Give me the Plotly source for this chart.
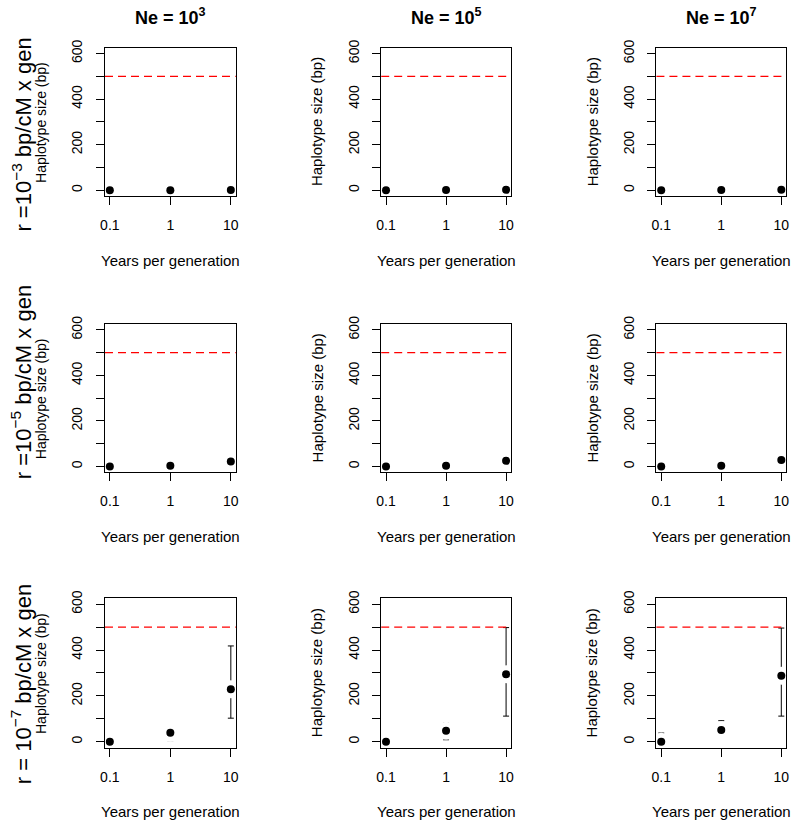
import plotly.graph_objects as go

# x values (years per generation)
years = [0.1, 1, 10]
year_labels = ["0.1", "1", "10"]

# column / row headers
ne_titles = ["Ne = 10<sup>3</sup>", "Ne = 10<sup>5</sup>", "Ne = 10<sup>7</sup>"]
r_titles = ["r =10<sup>\u22123</sup> bp/cM x gen",
            "r =10<sup>\u22125</sup> bp/cM x gen",
            "r = 10<sup>\u22127</sup> bp/cM x gen"]

# haplotype size (bp): one list per Ne column, per recombination row
mean_r3 = [[0, 0, 1], [0, 1, 2], [0, 1, 2]]
lo_r3 = [[0, 0, 0], [0, 0, 0], [0, 0, 0]]
hi_r3 = [[1, 2, 4], [1, 3, 5], [1, 3, 6]]

mean_r5 = [[0, 3, 22], [0, 3, 25], [0, 3, 29]]
lo_r5 = [[0, 1, 10], [0, 1, 12], [0, 1, 15]]
hi_r5 = [[1, 6, 36], [1, 6, 40], [1, 6, 45]]

mean_r7 = [[0, 39, 229], [0, 48, 295], [0, 51, 288]]
lo_r7 = [[0, 5, 103], [0, 9, 112], [0, 19, 112]]
hi_r7 = [[12, 71, 418], [5, 81, 498], [38, 92, 496]]

threshold = 500
y_ticks = [0, 200, 400, 600]
y_ticktext = ["0", "200", "400", "600"]

rows = [(mean_r3, lo_r3, hi_r3), (mean_r5, lo_r5, hi_r5), (mean_r7, lo_r7, hi_r7)]

W, H = 800, 826
col_px = [(101, 233), (380, 511), (658, 789)]
row_px = [(40, 190), (319, 469), (596, 747)]
row_label_y = [128, 378, 683]
font = "Liberation Sans, Arial, Helvetica, sans-serif"

fig = go.Figure()
layout = dict(width=W, height=H, margin=dict(l=0, r=0, t=0, b=0),
              paper_bgcolor="white", plot_bgcolor="white",
              showlegend=False, font=dict(family=font, color="black"))
annotations = []
shapes = []

k = 0
for ri, (means, los, his) in enumerate(rows):
    for ci in range(3):
        k += 1
        xa = "x" if k == 1 else "x%d" % k
        ya = "y" if k == 1 else "y%d" % k
        m = means[ci]
        lo = los[ci]
        hi = his[ci]
        # error bars
        fig.add_trace(go.Scatter(
            x=years, y=m, xaxis=xa, yaxis=ya, mode="markers",
            marker=dict(size=1, color="rgba(0,0,0,0)"),
            error_y=dict(type="data", symmetric=False,
                         array=[h - v for h, v in zip(hi, m)],
                         arrayminus=[v - l for v, l in zip(m, lo)],
                         color="black", thickness=1, width=3),
            hoverinfo="skip"))
        # gap around the point
        fig.add_trace(go.Scatter(
            x=years, y=m, xaxis=xa, yaxis=ya, mode="markers",
            marker=dict(size=18, color="white"), hoverinfo="skip"))
        fig.add_trace(go.Scatter(
            x=years, y=m, xaxis=xa, yaxis=ya, mode="markers",
            marker=dict(size=8, color="black")))

        x0, x1 = col_px[ci]
        y0, y1 = row_px[ri]
        axkey = "xaxis" if k == 1 else "xaxis%d" % k
        aykey = "yaxis" if k == 1 else "yaxis%d" % k
        layout[axkey] = dict(
            domain=[x0 / W, x1 / W], anchor=ya, type="log", range=[-1.08, 1.08],
            tickvals=years, ticktext=year_labels, ticks="outside", ticklen=8,
            tickcolor="black", showline=True, mirror=True, linecolor="black",
            linewidth=1, showgrid=False, zeroline=False,
            tickfont=dict(size=14, family=font), ticklabelstandoff=8)
        layout[aykey] = dict(
            domain=[1 - y1 / H, 1 - y0 / H], anchor=xa, range=[-26, 626],
            tickvals=y_ticks, ticktext=y_ticktext, tickangle=-90,
            ticks="outside", ticklen=8, tickcolor="black", showline=True,
            mirror=True, linecolor="black", linewidth=1, showgrid=False,
            zeroline=False, tickfont=dict(size=14, family=font),
            ticklabelstandoff=8,
            minor=dict(ticks="outside", ticklen=8, tickcolor="black",
                       tick0=0, dtick=100, showgrid=False))

        shapes.append(dict(type="line", xref=xa + " domain", yref=ya,
                           x0=0, x1=1, y0=threshold, y1=threshold,
                           line=dict(color="red", width=1.3, dash="8px,5px")))
        annotations.append(dict(
            text="Years per generation", xref=xa + " domain", yref=ya + " domain",
            x=0.5, y=0, yshift=-64, showarrow=False, yanchor="middle",
            font=dict(size=15)))
        annotations.append(dict(
            text="Haplotype size (bp)", xref=xa + " domain", yref=ya + " domain",
            x=0, y=0.5, xshift=-64, showarrow=False, xanchor="center",
            textangle=-90, font=dict(size=14 if ci == 0 else 15)))

for ci in range(3):
    x0, x1 = col_px[ci]
    annotations.append(dict(
        text="<b>" + ne_titles[ci] + "</b>", xref="paper", yref="paper",
        x=(x0 + x1) / 2 / W, y=1 - 9 / H, showarrow=False,
        xanchor="center", yanchor="middle", font=dict(size=18)))

for ri in range(3):
    annotations.append(dict(
        text=r_titles[ri], xref="paper", yref="paper",
        x=17 / W, y=1 - row_label_y[ri] / H, showarrow=False, textangle=-90,
        xanchor="center", yanchor="middle", font=dict(size=22)))

layout["annotations"] = annotations
layout["shapes"] = shapes
fig.update_layout(**layout)
fig.write_html("out.html", config={"displayModeBar": False},
               post_script="document.body.style.margin='0';")
